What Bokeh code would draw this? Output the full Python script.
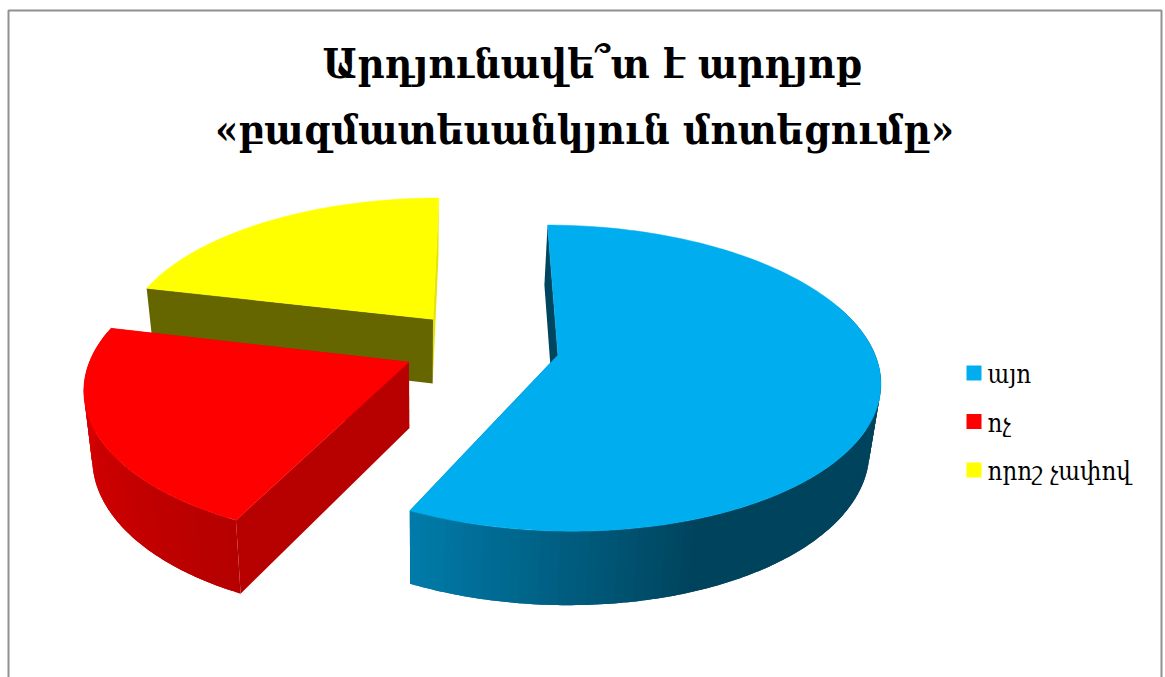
import math
from bokeh.plotting import figure
from bokeh.models import Range1d
from bokeh.core.properties import value
from bokeh.embed import file_html
from bokeh.resources import INLINE

# --- data -------------------------------------------------------------
title_lines = ["Արդյունավե՞տ է արդյոք", "«բազմատեսանկյուն մոտեցումը»"]
categories = ["այո", "ոչ", "որոշ չափով"]
shares = [57.2, 21.5, 21.3]
top_colors = ["#00AEEF", "#FF0000", "#FFFF00"]

# --- layout -----------------------------------------------------------
W, H = 1165, 677
CX, CY = 478.6, 346.0      # pie centre before explosion
RX, RY = 314.5, 147.0      # ellipse radii
PERSP = 0.15               # depth perspective
EXPLODE = [0.255, 0.243, 0.243]
DEPTH, DEPTH_SLOPE = 65.5, 45.0  # extrusion
SHRINK, X0 = 0.025, 420.0  # lower plane shrink
START = 0.0                # start angle, degrees clockwise from 12 o'clock
FONT = "DejaVu Serif Condensed"
TITLE_PX, LEGEND_PX = 41.5, 25.5
TITLE_X = [592, 584]
TITLE_BASE = [80, 146]
BASE_SHIFT = 0.41          # renderer offset of the text baseline, in ems

p = figure(width=W, height=H, output_backend="svg", toolbar_location=None,
           x_range=Range1d(0, W), y_range=Range1d(H, 0),
           min_border=0, outline_line_color=None, background_fill_color="white")
p.xaxis.visible = False
p.yaxis.visible = False
p.grid.visible = False


def project(X, Y, lower=False):
    s = 1.0 / (1.0 - PERSP * Y)
    x = CX + RX * X * s
    y = CY + RY * Y * s
    if lower:
        x = x - SHRINK * (x - X0)
        y = y + DEPTH + DEPTH_SLOPE * (s - 1.0)
    return x, y


def shade(col, k):
    r, g, b = int(col[1:3], 16), int(col[3:5], 16), int(col[5:7], 16)
    return "#%02x%02x%02x" % (int(r * k), int(g * k), int(b * k))


def rim_k(theta):
    t = theta % 360
    stops = [(70, 0.39), (160, 0.39), (205, 0.71), (250, 0.82), (285, 0.88)]
    if t <= stops[0][0]:
        return stops[0][1]
    for (a, ka), (b, kb) in zip(stops, stops[1:]):
        if t <= b:
            return ka + (kb - ka) * (t - a) / (b - a)
    return stops[-1][1]


def quad(pts, color):
    p.patch([q[0] for q in pts], [q[1] for q in pts], fill_color=color,
            line_color=None)


spans = []
a = START
tot = float(sum(shares))
for v in shares:
    spans.append((a, a + 360.0 * v / tot))
    a += 360.0 * v / tot

wall_k0 = [0.40, 0.72, 0.40]   # face at the start angle of the slice
wall_k1 = [0.40, 0.72, 0.90]   # face at the end angle of the slice
RIM_FROM, RIM_TO = 70.0, 282.0  # the part of the rim that faces the viewer

# painter's order: far slice first
for i in [2, 1, 0]:
    a0, a1 = spans[i]
    mid = math.radians((a0 + a1) / 2)
    ox, oy = EXPLODE[i] * math.sin(mid), -EXPLODE[i] * math.cos(mid)
    base = top_colors[i]

    def corner(th, lower=False):
        t = math.radians(th)
        return project(ox + math.sin(t), oy - math.cos(t), lower)

    # cut faces
    apex_u = project(ox, oy)
    apex_l = project(ox, oy, True)
    quad([apex_u, corner(a1), corner(a1, True), apex_l], shade(base, wall_k1[i]))
    quad([apex_u, corner(a0), corner(a0, True), apex_l], shade(base, wall_k0[i]))

    # outer rim: overlapping facets so that no seams show
    r0, r1 = max(a0, RIM_FROM), min(a1, RIM_TO)
    if r1 > r0:
        n = max(2, int((r1 - r0) / 1.5))
        ths = [r0 + (r1 - r0) * j / n for j in range(n + 1)]
        for j in range(n):
            t0, t1 = ths[j], ths[min(j + 2, n)]
            mids = [t0 + (t1 - t0) * q / 4 for q in range(5)]
            pts = [corner(t) for t in mids] + [corner(t, True) for t in reversed(mids)]
            quad(pts, shade(base, rim_k((ths[j] + ths[j + 1]) / 2)))

    # top face
    m = 180
    arc = [corner(a0 + (a1 - a0) * j / m) for j in range(m + 1)]
    top = [apex_u] + arc
    p.patch([q[0] for q in top], [q[1] for q in top], fill_color=base,
            line_color=base, line_width=0.5)

# frame
FX0, FY0, FX1, FY1 = 8.0, 10.0, 1161.0, H + 5
FRAME = "#909090"
p.line([FX0, FX0, FX1, FX1], [FY1, FY0, FY0, FY1], line_color=FRAME, line_width=2)

# title
p.text(TITLE_X, [b - BASE_SHIFT * TITLE_PX for b in TITLE_BASE],
       text=title_lines, text_font=value(FONT), text_font_style="bold",
       text_font_size=f"{TITLE_PX}px", text_color="black", text_align="center",
       text_baseline="alphabetic")

# legend
LX, LY, LS, LD = 966, 365, 15, 48.5
for i, name in enumerate(categories):
    p.quad(left=[LX], right=[LX + LS], top=[LY + i * LD], bottom=[LY + LS + i * LD],
           fill_color=top_colors[i], line_color=None)
    p.text([987], [LY + 19 + i * LD - BASE_SHIFT * LEGEND_PX], text=[name],
           text_font=value(FONT), text_font_size=f"{LEGEND_PX}px",
           text_color="black", text_align="left", text_baseline="alphabetic")

open("out.html", "w").write(file_html(p, INLINE))
